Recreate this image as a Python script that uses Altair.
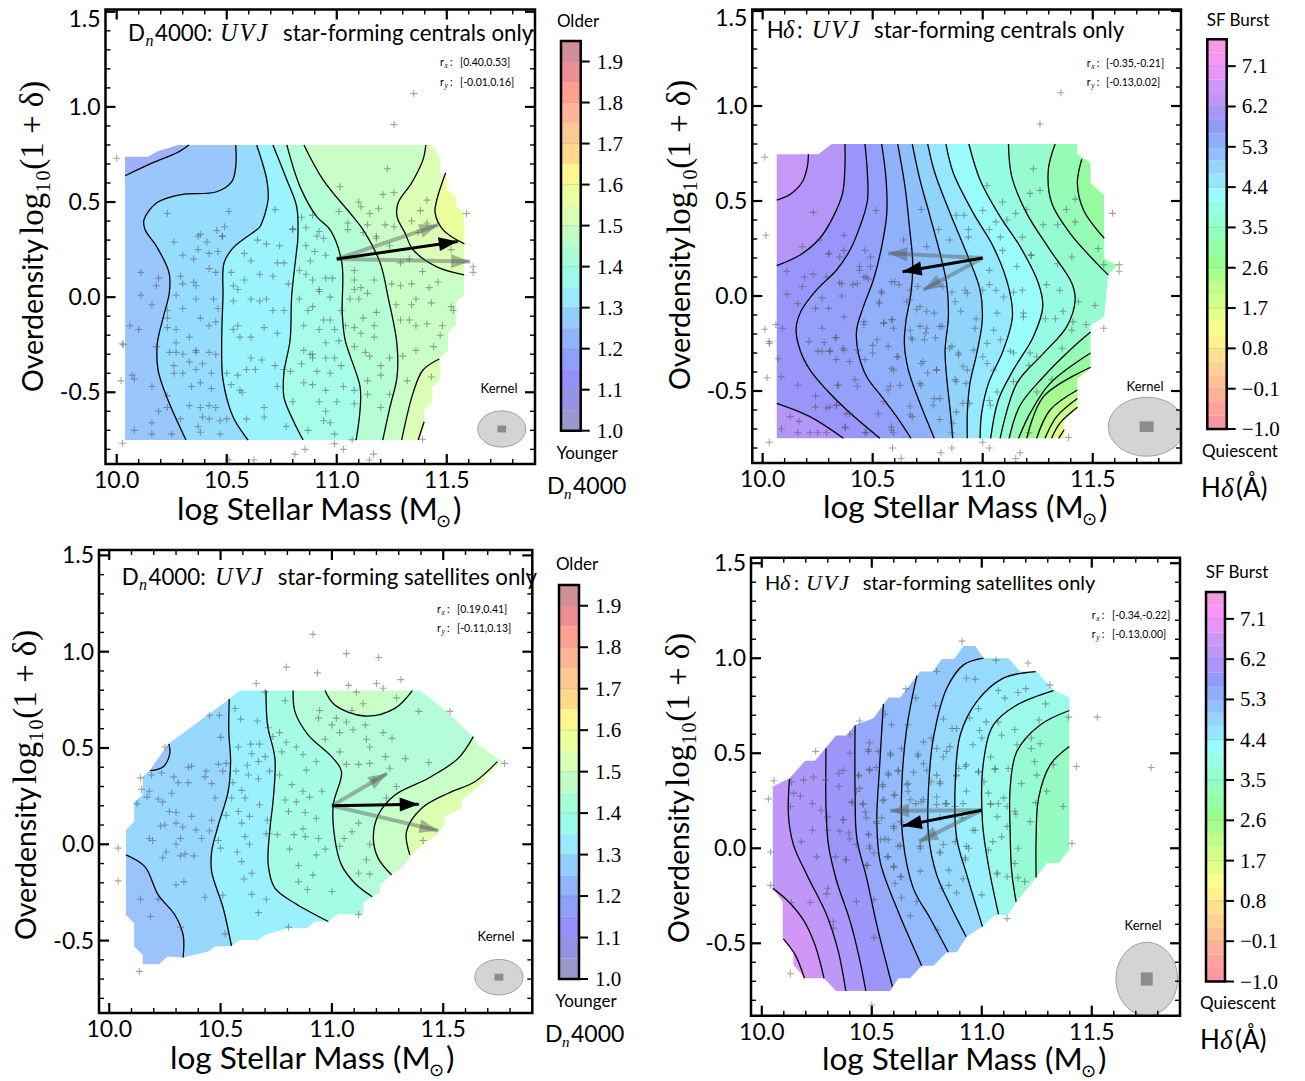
import math
import numpy as np
import pandas as pd
import altair as alt

SANS = "Lato"
SERIF = "Liberation Serif"

# ---------- colour bars ----------
D4_LEVELS = [1.0 + 0.05 * i for i in range(20)]
D4_COLORS = ["#9b98cb", "#9492e3", "#9490fa", "#8fa0fa", "#91b3fb", "#92cdfc", "#99eafe", "#9cfbe8", "#a8fdd8",
             "#c0fdc6", "#d9ffb5", "#eaffa0", "#fdf78f", "#fdd98b", "#fdc992", "#feb596", "#fea090", "#ec8f95", "#d08f98"]
D4_TICKS = [1.0, 1.1, 1.2, 1.3, 1.4, 1.5, 1.6, 1.7, 1.8, 1.9]
HD_LEVELS = [-1.0 + 0.3 * i for i in range(30)]
HD_COLORS = ["#fd96a2", "#fea09c", "#feb098", "#ffc096", "#ffd093", "#ffe090", "#fdf28c", "#f8ff8c", "#e6ff8c", "#d2ff8c",
             "#bfff8c", "#a8ff8c", "#96ff8f", "#94ffa4", "#94ffba", "#94ffd0", "#96ffe6", "#98fdfd", "#96e6fe", "#96d4fe",
             "#94bffe", "#92adfe", "#9298fc", "#a896fa", "#bd96f8", "#d096f6", "#e596f6", "#f896f6", "#f698e2"]
HD_TICKS = [-1.0, -0.1, 0.8, 1.7, 2.6, 3.5, 4.4, 5.3, 6.2, 7.1]

# ---------- panel 1 : Dn4000 centrals ----------
P1_BASE = "#9fb0fb"
P1_MASK = [(10.038, .738), (10.142, .738), (10.183, .765), (10.279, .80), (11.433, .80), (11.47, .738), (11.47, .654),
           (11.501, .633), (11.501, .565), (11.542, .528), (11.542, .475), (11.579, .444), (11.579, .012), (11.542, -.025),
           (11.542, -.146), (11.506, -.188), (11.506, -.277), (11.47, -.319), (11.47, -.435), (11.433, -.472),
           (11.433, -.556), (11.397, -.593), (11.397, -.688), (11.37, -.751), (10.038, -.751)]
P1_CONTOURS = [
    [(10.329, .80), (10.274, .759), (10.165, .707), (10.038, .638)],
    [(10.541, .80), (10.541, .686), (10.523, .607), (10.455, .554), (10.288, .538), (10.182, .496), (10.124, .407),
     (10.129, .354), (10.182, .265), (10.238, .128), (10.239, .023), (10.212, -.104), (10.185, -.24), (10.188, -.383),
     (10.233, -.541), (10.315, -.751)],
    [(10.636, .80), (10.682, .617), (10.688, .512), (10.651, .37), (10.636, .354), (10.529, .259), (10.488, .181),
     (10.483, .002), (10.477, -.24), (10.483, -.435), (10.529, -.63), (10.597, -.751)],
    [(10.71, .80), (10.773, .617), (10.818, .475), (10.823, .302), (10.818, .249), (10.795, .002), (10.788, -.225),
     (10.76, -.398), (10.76, -.525), (10.801, -.646), (10.847, -.751)],
    [(10.773, .80), (10.833, .581), (10.909, .423), (10.97, .354), (11.023, .181), (11.025, -.083), (11.038, -.225),
     (11.106, -.472), (11.106, -.593), (11.088, -.751)],
    [(10.851, .80), (10.938, .617), (11.074, .423), (11.12, .354), (11.197, .181), (11.233, .002), (11.273, -.24),
     (11.274, -.419), (11.242, -.577), (11.209, -.751)],
    [(11.405, .80), (11.392, .723), (11.341, .602), (11.279, .496), (11.274, .423), (11.31, .338), (11.347, .249),
     (11.455, .159), (11.579, .117)],
    [(11.495, .654), (11.455, .512), (11.447, .444), (11.483, .354), (11.58, .28)],
    [(11.466, -.325), (11.392, -.383), (11.347, -.503), (11.295, -.751)],
    [(11.397, -.655), (11.37, -.751)],
]
P1_EXITS = ["TL", "TB", "TB", "TB", "TB", "TB", "TR", "TR", "RB", "RB"]
P1_COLORS = ["#99c6fc", "#96dcfe", "#9bf3fe", "#a6fde8", "#b5fed5", "#c9ffc6", "#dbffb5", "#ecff9e", "#dbffb5", "#ecff9e"]
P1_ARROWS = [(11.0, .2, 11.462, .38, "g"), (11.0, .2, 11.606, .187, "g"), (11.0, .2, 11.55, .293, "k")]
P1_POINTS = [(10.11, .13), (10.11, .01), (10.16, -.04), (10.19, .10), (10.18, .06), (10.06, -.15), (10.10, -.17), (10.03, -.25),
             (10.025, -.245), (10.07, -.41), (10.08, -.43), (10.02, -.44), (10.16, -.47), (10.19, -.60), (10.16, -.66), (10.08, -.70),
             (10.16, -.72), (10.25, -.72), (10.23, -.58), (10.26, .29), (10.30, .22), (10.35, .20), (10.37, .25), (10.41, .29),
             (10.42, .23), (10.46, .24), (10.38, .33), (10.48, .32), (10.42, .15), (10.45, .13), (10.29, .11), (10.30, .07),
             (10.35, .08), (10.36, .06), (10.27, .01), (10.36, -.01), (10.44, -.01), (10.46, -.06), (10.30, -.06), (10.23, -.07),
             (10.23, -.11), (10.38, -.11), (10.42, -.15), (10.45, -.13), (10.23, -.16), (10.27, -.17), (10.33, -.21), (10.27, -.24),
             (10.18, -.26), (10.36, -.28), (10.24, -.29), (10.27, -.29), (10.30, -.30), (10.36, -.29), (10.42, -.29), (10.45, -.30),
             (10.33, -.34), (10.26, -.36), (10.39, -.35), (10.26, -.40), (10.30, -.40), (10.36, -.38), (10.43, -.40), (10.34, -.47),
             (10.38, -.45), (10.43, -.48), (10.23, -.52), (10.33, -.57), (10.38, -.58), (10.42, -.57), (10.45, -.58), (10.39, -.63),
             (10.29, -.64), (10.42, -.64), (10.47, -.65), (10.50, -.64), (10.37, -.68), (10.38, -.71), (10.47, -.72), (10.59, -.64),
             (10.67, -.63), (10.67, -.58), (10.56, -.49), (10.57, -.50), (10.52, -.46), (10.55, -.41), (10.50, -.40), (10.59, -.38),
             (10.63, -.38), (10.61, -.32), (10.66, -.33), (10.72, -.36), (10.73, -.47), (10.76, -.38), (10.80, -.55), (10.77, -.68),
             (10.87, -.70), (10.53, -.17), (10.56, -.21), (10.55, -.15), (10.61, -.21), (10.67, -.16), (10.73, -.19), (10.65, -.02),
             (10.53, -.02), (10.61, -.01), (10.68, -.01), (10.71, -.07), (10.76, -.07), (10.78, .07), (10.71, .11), (10.65, .12),
             (10.58, .09), (10.53, .06), (10.55, .04), (10.52, .13), (10.64, .30), (10.68, .28), (10.74, .27), (10.58, .23),
             (10.61, .19), (10.73, .18), (10.76, .18), (10.86, .27), (10.88, .19), (10.83, .14), (10.86, .12), (10.83, -.01),
             (10.87, -.07), (10.85, -.15), (10.85, -.28), (10.88, -.30), (10.84, -.35), (10.79, -.39), (10.85, -.45), (10.89, -.32),
             (10.91, .32), (10.94, .31), (10.90, .24), (10.95, .22), (10.89, .09), (10.95, .10), (10.98, .10), (10.92, .04), (10.92, .03),
             (10.97, 0), (10.89, -.05), (11.02, -.07), (10.94, -.12), (10.97, -.12), (10.92, -.17), (10.99, -.17), (11.04, -.15),
             (10.95, -.24), (11.01, -.23), (10.89, -.30), (10.95, -.32), (10.99, -.32), (10.91, -.39), (10.97, -.40), (11.02, -.36),
             (10.89, -.46), (10.95, -.49), (11.03, -.47), (11.08, -.49), (10.92, -.55), (11.0, -.55), (11.08, -.56), (10.95, -.60),
             (10.94, -.65), (10.97, -.66), (10.99, -.72), (11.07, -.75), (11.08, .09), (11.11, .05), (11.14, .02), (11.08, .04),
             (11.06, -.01), (11.10, -.01), (11.18, -.08), (11.12, -.11), (11.17, -.15), (11.08, -.16), (11.11, -.19), (11.17, -.21),
             (11.08, -.26), (11.13, -.29), (11.15, -.31), (11.20, -.36), (11.20, -.41), (11.14, -.44), (11.14, -.51), (11.24, -.51),
             (11.20, -.58), (11.25, .07), (11.29, .06), (11.34, .07), (11.42, .05), (11.46, .08), (11.27, -.04), (11.36, -.01),
             (11.34, -.04), (11.43, -.03), (11.52, -.05), (11.53, -.07), (11.29, -.12), (11.33, -.12), (11.36, -.15), (11.41, -.14),
             (11.48, -.15), (11.47, -.20), (11.36, -.28), (11.44, -.26), (11.24, -.32), (11.30, -.31), (11.43, -.42), (11.32, -.44),
             (11.12, .34), (11.18, .31), (11.24, .27), (11.08, .14), (11.17, .09), (11.33, .20), (11.29, .18), (11.39, .135), (11.52, .25),
             (11.23, .675), (11.015, .58), (11.21, .54), (11.26, .55), (11.10, .50), (11.11, .475), (11.19, .465), (11.15, .44), (11.01, .45),
             (11.41, .51), (11.38, .455), (11.34, .40), (11.59, .44), (10.84, .42), (10.89, .43), (10.86, .365), (10.80, .355), (10.92, .345),
             (11.05, .39), (11.05, .355), (11.14, .38), (11.22, .38), (11.18, .32), (11.26, .37), (11.37, .34), (11.41, .39),
             (10.23, .44), (10.51, .45), (10.37, .32), (10.455, .35), (10.49, .37), (10.48, .32), (10.72, .46), (10.80, .36),
             (10.0, .73), (11.35, 1.07), (11.26, .907), (11.62, .16), (11.62, .13), (10.026, -.768), (10.856, -.80), (10.81, -.825),
             (10.624, -.856), (10.51, -.856), (10.99, -.77), (11.03, -.80), (11.167, -.825), (11.148, -.856), (11.39, -.747)]

# ---------- panel 2 : Hdelta centrals ----------
P2_BASE = "#c898f8"
P2_MASK = [(10.064, .746), (10.253, .746), (10.314, .80), (11.43, .80), (11.43, .746), (11.49, .70), (11.49, .593), (11.552, .53),
           (11.552, .198), (11.61, .16), (11.57, .11), (11.552, -.109), (11.49, -.153), (11.49, -.382), (11.43, -.435),
           (11.43, -.593), (11.37, -.654), (11.37, -.749), (10.064, -.749)]
P2_CONTOURS = [
    [(10.208, .746), (10.203, .681), (10.18, .60), (10.125, .535), (10.064, .505)],
    [(10.374, .80), (10.374, .681), (10.363, .54), (10.321, .418), (10.26, .304), (10.17, .216), (10.064, .16)],
    [(10.465, .80), (10.476, .646), (10.476, .50), (10.442, .365), (10.397, .242), (10.336, .137), (10.245, .032), (10.177, -.074),
     (10.152, -.17), (10.17, -.284), (10.215, -.389), (10.291, -.495), (10.382, -.60), (10.533, -.749)],
    [(10.541, .80), (10.561, .611), (10.564, .435), (10.541, .26), (10.503, .084), (10.458, -.056), (10.427, -.179), (10.435, -.302),
     (10.473, -.425), (10.541, -.53), (10.609, -.635), (10.674, -.749)],
    [(10.614, .80), (10.647, .575), (10.667, .365), (10.682, .172), (10.674, .014), (10.652, -.126), (10.644, -.249), (10.662, -.389),
     (10.715, -.565), (10.78, -.749)],
    [(10.68, .80), (10.715, .611), (10.761, .418), (10.806, .225), (10.836, .067), (10.844, -.109), (10.829, -.284), (10.836, -.425),
     (10.852, -.60), (10.864, -.749)],
    [(10.75, .80), (10.783, .646), (10.852, .435), (10.927, .225), (10.988, .032), (10.998, -.126), (10.973, -.302), (10.942, -.46),
     (10.93, -.618), (10.93, -.749)],
    [(10.833, .80), (10.867, .646), (10.958, .435), (11.048, .26), (11.117, .049), (11.135, -.109), (11.094, -.284), (11.026, -.46),
     (10.995, -.618), (10.988, -.749)],
    [(10.937, .80), (10.988, .611), (11.079, .418), (11.17, .26), (11.253, .067), (11.273, -.056), (11.23, -.214), (11.139, -.389),
     (11.071, -.547), (11.036, -.749)],
    [(11.117, .80), (11.132, .628), (11.2, .435), (11.306, .242), (11.405, .067), (11.42, -.021), (11.382, -.161), (11.276, -.302),
     (11.155, -.46), (11.079, -.749)],
    [(11.329, .80), (11.298, .663), (11.314, .488), (11.397, .33), (11.518, .172), (11.571, .11)],
    [(11.45, .72), (11.43, .593), (11.458, .453), (11.552, .304)],
    [(11.49, -.19), (11.397, -.284), (11.276, -.425), (11.17, -.575), (11.12, -.749)],
    [(11.49, -.30), (11.306, -.46), (11.215, -.618), (11.163, -.749)],
    [(11.49, -.375), (11.276, -.53), (11.2, -.749)],
    [(11.43, -.495), (11.306, -.60), (11.245, -.749)],
    [(11.43, -.54), (11.336, -.635), (11.283, -.749)],
    [(11.43, -.585), (11.35, -.67), (11.313, -.749)],
    [(11.37, -.704), (11.345, -.749)],
    [(10.367, -.749), (10.215, -.635), (10.064, -.565)],
]
P2_EXITS = ["TL", "TL", "TB", "TB", "TB", "TB", "TB", "TB", "TB", "TB", "TR", "TR", "RB", "RB", "RB", "RB", "RB", "RB", "RB", "BL"]
P2_COLORS = ["#b396f8", "#9a95fb", "#95a0fb", "#90b0fb", "#90c0fc", "#90d4fc", "#96e8fe", "#9afbfd", "#96fbe4", "#96fbcf", "#96fbb5",
             "#95fb9e", "#96fbb5", "#95fb9e", "#a5fb8f", "#bbfc8c", "#cdfd8a", "#defd8a", "#effd8a", "#b396f8"]
P2_ARROWS = [(11.0, .2, 10.571, .225, "g"), (11.0, .2, 10.73, .032, "g"), (11.0, .2, 10.636, .128, "k")]
P2_POINTS = [(10.01, .73), (10.015, .32), (10.01, -.175), (10.06, -.15), (10.03, -.25), (10.03, -.24), (10.02, -.43), (10.03, -.77),
             (10.59, -.80), (10.63, -.855), (10.81, -.825), (10.86, -.80), (11.0, -.77), (11.03, -.80), (11.17, -.825), (11.15, -.855),
             (11.39, -.745), (11.55, -.17), (11.59, .435), (11.62, .165), (11.62, .13), (11.355, 1.07), (11.26, .905), (11.23, .67),
             (11.02, .58), (10.23, .44), (10.515, .45), (10.72, .455), (10.88, .425), (10.915, .425), (10.80, .35), (10.935, .35), (11.0, .45),
             (11.06, .39), (11.11, .40), (11.09, .495), (11.15, .435), (11.20, .455), (11.215, .54), (11.26, .555), (11.42, .51), (11.38, .455),
             (11.42, .39), (11.34, .375), (11.275, .375), (11.525, .25), (11.55, .165), (11.405, .205), (11.34, .17), (11.22, .215), (11.18, .31),
             (11.08, .31), (11.03, .35), (10.935, .31), (10.85, .295), (10.745, .26), (10.64, .295), (10.465, .24), (10.37, .32), (10.26, .295),
             (10.18, .26), (10.30, .22), (10.35, .205), (10.44, .155), (10.49, .155), (10.11, .13), (10.19, .10), (10.23, .115), (10.29, .10),
             (10.36, .065), (10.43, .065), (10.47, .10), (10.18, .05), (10.11, .01), (10.16, -.04), (10.24, -.065), (10.30, -.065), (10.37, -.11),
             (10.27, -.17), (10.09, -.17), (10.21, -.24), (10.28, -.245), (10.335, -.22), (10.25, -.29), (10.305, -.29), (10.37, -.285),
             (10.43, -.285), (10.50, -.30), (10.07, -.33), (10.085, -.425), (10.16, -.47), (10.24, -.525), (10.24, -.585), (10.305, -.585),
             (10.34, -.47), (10.43, -.475), (10.335, -.575), (10.395, -.62), (10.125, -.635), (10.165, -.66), (10.085, -.70), (10.16, -.72),
             (10.215, -.72), (10.25, -.72), (10.29, -.72), (10.375, -.695), (10.47, -.72), (10.595, -.72), (10.585, -.69), (10.68, -.635),
             (10.67, -.58), (10.55, -.555), (10.58, -.475), (10.595, -.39), (10.61, -.32), (10.52, -.23), (10.55, -.145), (10.46, -.135),
             (10.54, .015), (10.53, -.04), (10.60, .075), (10.67, .03), (10.655, -.03), (10.715, -.055), (10.59, -.125), (10.67, -.18),
             (10.74, -.195), (10.68, -.23), (10.815, -.16), (10.875, -.03), (10.93, .015), (10.82, .05), (11.0, .03), (11.03, .06), (11.095, -.005),
             (11.065, -.09), (11.185, -.09), (11.14, .02), (11.29, .06), (11.35, .03), (11.435, -.03), (11.365, -.08), (11.285, -.12), (11.33, -.12),
             (11.41, -.135), (11.51, -.05), (11.47, -.15), (11.405, -.18), (11.36, -.275), (11.14, -.30), (11.21, -.365), (11.245, -.32),
             (11.315, -.44), (11.245, -.505), (11.14, -.45), (11.065, -.505), (11.035, -.575), (10.91, -.565), (10.875, -.44), (10.85, -.275),
             (10.89, -.30), (10.96, -.285), (11.02, -.25), (11.02, -.355), (10.93, -.39), (10.79, -.39), (10.73, -.345), (10.805, -.54),
             (10.865, -.67), (10.72, -.47), (11.21, -.72), (10.86, -.72),
             (10.30, .225), (10.37, .24), (10.49, .205), (10.44, .135), (10.46, .10), (10.35, .07), (10.41, .06), (10.48, .09), (10.27, -.01), (10.36, 0),
             (10.54, .025), (10.53, -.03), (10.585, .075), (10.62, .06), (10.705, .05), (10.67, -.02), (10.70, -.07), (10.745, -.08), (10.78, -.09),
             (10.86, .02), (10.92, .03), (10.90, -.08), (10.97, -.12), (10.965, -.17), (10.46, -.15), (10.55, -.14), (10.585, -.125), (10.595, -.17),
             (10.715, -.16), (10.745, -.17), (10.805, -.16), (10.675, -.22), (10.735, -.23), (10.785, -.22), (10.33, -.22), (10.365, -.275), (10.305, -.29),
             (10.27, -.29), (10.50, -.26), (10.57, -.265), (10.615, -.32), (10.335, -.335), (10.395, -.345), (10.465, -.335), (10.585, -.38), (10.72, -.355),
             (10.79, -.39), (10.75, -.405), (10.86, -.265), (10.89, -.31), (10.91, -.37), (10.88, -.45), (11.0, -.32), (11.05, -.39), (10.625, -.47),
             (10.715, -.46), (10.57, -.495), (10.42, -.44), (10.345, -.47), (10.78, -.54), (10.775, -.575), (10.88, -.61), (10.67, -.625), (10.805, -.65),
             (10.335, -.575), (10.29, -.59), (10.38, -.62), (10.525, -.62), (10.375, -.69), (10.585, -.705), (10.465, -.72), (11.05, -.18), (11.08, -.23),
             (11.185, -.11), (11.18, .03), (11.09, .24), (11.155, .155), (11.22, .215), (11.03, .135), (11.06, .03), (11.215, -.30), (11.125, -.29),
             (11.03, -.55), (10.94, -.565), (10.925, -.46)]

# ---------- panel 3 : Dn4000 satellites ----------
P3_BASE = "#98d8fe"
P3_MASK = [(10.075, .074), (10.112, .118), (10.112, .221), (10.15, .256), (10.15, .351), (10.183, .386), (10.265, .521), (10.534, .749),
           (10.587, .798), (11.395, .798), (11.507, .697), (11.635, .559), (11.657, .516), (11.765, .429), (11.687, .351),
           (11.687, .325), (11.582, .23), (11.582, .187), (11.507, .144), (11.507, .1), (11.463, .04), (11.41, -.003), (11.358, -.055),
           (11.32, -.116), (11.268, -.159), (11.216, -.211), (11.216, -.254), (11.178, -.272), (11.141, -.306), (11.141, -.363), (11.028, -.363),
           (10.984, -.401), (10.924, -.401), (10.886, -.436), (10.804, -.436), (10.699, -.471), (10.669, -.497), (10.587, -.497),
           (10.549, -.528), (10.475, -.531), (10.445, -.557), (10.332, -.588), (10.262, -.583), (10.223, -.623), (10.15, -.623),
           (10.15, -.574), (10.112, -.531), (10.112, -.41), (10.075, -.367)]
P3_CONTOURS = [
    [(10.183, .382), (10.243, .403), (10.272, .472), (10.268, .521)],
    [(10.332, -.588), (10.332, -.471), (10.295, -.367), (10.22, -.263), (10.16, -.116), (10.075, -.055)],
    [(10.539, .754), (10.537, .585), (10.545, .429), (10.534, .273), (10.49, .10), (10.46, -.038), (10.46, -.142), (10.512, -.332), (10.549, -.528)],
    [(10.704, .798), (10.711, .619), (10.744, .446), (10.737, .239), (10.722, .083), (10.714, -.107), (10.744, -.228), (10.834, -.306), (10.984, -.401)],
    [(10.826, .798), (10.834, .689), (10.894, .567), (10.999, .455), (11.043, .377), (11.006, .204), (11.013, .031), (11.043, -.107), (11.103, -.202), (11.181, -.272)],
    [(10.969, .798), (11.013, .723), (11.148, .666), (11.283, .706), (11.361, .798)],
    [(11.635, .559), (11.567, .446), (11.433, .343), (11.283, .256), (11.208, .152), (11.186, .031), (11.208, -.073), (11.268, -.159)],
    [(11.743, .429), (11.642, .325), (11.522, .265), (11.403, .187), (11.335, .066), (11.35, -.055)],
]
P3_EXITS = ["LT", "BL", "TB", "TB", "TB", "TT", "RB", "RB"]
P3_COLORS = ["#9cc4fc", "#9cc4fc", "#9bf0fe", "#a6fde6", "#b5fdd8", "#c9ffc6", "#c9ffc6", "#dcffb0"]
P3_ARROWS = [(11.0, .2, 11.248, .368, "g"), (11.0, .2, 11.478, .071, "g"), (11.0, .2, 11.39, .208, "k")]
P3_POINTS = [(10.04, -.02), (10.04, -.19), (10.135, -.66), (10.25, .505), (10.14, .345), (10.145, .285), (10.18, .275), (10.125, .21),
             (10.19, .36), (10.235, .37), (10.29, .35), (10.31, .32), (10.355, .32), (10.355, .40), (10.37, .405), (10.435, .38), (10.43, .35),
             (10.46, .315), (10.28, .265), (10.17, .245), (10.22, .235), (10.24, .22), (10.30, .165), (10.27, .17), (10.37, .145), (10.30, .11),
             (10.23, .095), (10.25, .10), (10.33, .09), (10.39, .075), (10.45, .07), (10.18, .03), (10.195, .02), (10.32, .03), (10.415, .03),
             (10.30, 0), (10.255, -.04), (10.24, -.07), (10.32, -.06), (10.34, -.05), (10.38, -.06), (10.49, .02), (10.50, -.02), (10.46, .125),
             (10.475, .24), (10.51, .38), (10.49, .415), (10.525, .42), (10.50, .555), (10.45, .67), (10.495, .67), (10.565, .705), (10.59, .65),
             (10.665, .64), (10.58, .505), (10.635, .52), (10.675, .52), (10.64, .47), (10.67, .43), (10.62, .41), (10.57, .38), (10.625, .36),
             (10.67, .34), (10.70, .455), (10.72, .38), (10.555, .32), (10.595, .28), (10.55, .24), (10.61, .24), (10.675, .205), (10.525, .15),
             (10.58, .17), (10.63, .145), (10.595, .11), (10.71, .125), (10.61, .04), (10.63, 0), (10.575, -.04), (10.595, -.09), (10.705, .055),
             (10.72, .055), (10.755, .05), (10.64, -.15), (10.605, -.18), (10.51, -.265), (10.64, -.26), (10.705, -.285), (10.67, -.355),
             (10.52, -.465), (10.805, -.43), (11.12, -.365), (11.0, -.245), (10.89, -.235), (10.85, -.195), (10.915, -.16), (10.85, -.11),
             (10.93, -.055), (10.81, -.025), (10.88, .04), (10.97, -.025), (10.94, .03), (10.83, .05), (10.87, .08), (10.93, .135), (10.88, .165),
             (10.805, .17), (10.79, .23), (10.84, .22), (10.90, .245), (10.955, .275), (10.87, .275), (10.82, .31), (10.765, .36), (10.885, .385),
             (10.93, .43), (10.87, .465), (10.775, .48), (10.84, .505), (10.795, .53), (10.765, .58), (10.735, .56), (10.715, .605), (10.79, .745),
             (10.70, .79), (10.66, .835), (10.795, .92), (10.915, 1.09), (10.935, .89), (11.065, .99), (11.21, .97), (11.075, .825), (11.11, .79),
             (11.20, .835), (11.23, .81), (11.31, .855), (11.14, .73), (11.29, .76), (11.53, .69), (11.39, .69), (11.09, .695), (10.945, .695),
             (11.02, .655), (10.94, .655), (11.065, .635), (11.15, .62), (11.0, .62), (11.035, .58), (11.095, .595), (11.23, .58), (10.97, .545),
             (11.155, .545), (11.27, .55), (11.17, .505), (11.035, .48), (11.24, .455), (11.33, .445), (11.435, .425), (11.065, .415), (11.12, .415),
             (11.17, .42), (11.26, .395), (11.19, .335), (11.29, .30), (11.245, .24), (11.775, .42), (11.12, .11), (11.09, .065), (11.055, .03),
             (11.17, 0), (11.035, -.01), (11.155, -.08), (11.12, -.15), (11.17, -.155), (11.41, .02), (10.22, -.285), (10.14, -.285), (10.185, -.375),
             (10.30, -.21), (10.335, -.195), (10.43, -.275), (10.32, -.43)]

# ---------- panel 4 : Hdelta satellites ----------
P4_BASE = "#c097f8"
P4_MASK = [(10.05, .325), (10.126, .368), (10.197, .46), (10.242, .46), (10.338, .593), (10.386, .593), (10.424, .649), (10.508, .684),
           (10.576, .793), (10.629, .793), (10.72, .93), (10.777, .93), (10.818, .996), (10.874, .996), (10.917, 1.065), (10.97, 1.065),
           (11.008, 1.0), (11.121, 1.0), (11.174, .93), (11.25, .93), (11.326, .833), (11.398, .793), (11.398, -.009), (11.348, -.079),
           (11.295, -.079), (11.25, -.149), (11.159, -.281), (11.121, -.351), (11.061, -.351), (11.003, -.412), (10.932, -.465), (10.886, -.547),
           (10.841, -.547), (10.78, -.618), (10.727, -.618), (10.674, -.684), (10.621, -.684), (10.583, -.751), (10.338, -.751), (10.283, -.684),
           (10.197, -.684), (10.144, -.614), (10.144, -.544), (10.095, -.474), (10.095, -.281), (10.05, -.211)]
P4_CONTOURS = [
    [(10.283, -.684), (10.242, -.509), (10.189, -.377), (10.114, -.272), (10.05, -.211)],
    [(10.194, -.684), (10.152, -.561), (10.098, -.477)],
    [(10.126, .365), (10.121, .175), (10.144, .018), (10.205, -.14), (10.295, -.351), (10.348, -.544), (10.382, -.751)],
    [(10.292, .526), (10.292, .211), (10.303, .018), (10.341, -.175), (10.402, -.386), (10.447, -.596), (10.473, -.751)],
    [(10.424, .646), (10.424, .316), (10.432, .053), (10.477, -.158), (10.523, -.404), (10.594, -.728)],
    [(10.553, .76), (10.535, .421), (10.523, .14), (10.538, -.07), (10.614, -.316), (10.727, -.618)],
    [(10.705, .909), (10.659, .632), (10.636, .316), (10.641, .053), (10.689, -.211), (10.765, -.368), (10.848, -.547)],
    [(11.008, 1.0), (10.917, .965), (10.841, .842), (10.78, .579), (10.758, .316), (10.758, .07), (10.795, -.14), (10.856, -.298), (10.929, -.465)],
    [(11.245, .93), (11.098, .895), (10.977, .772), (10.902, .596), (10.879, .333), (10.886, .053), (10.932, -.14), (11.003, -.412)],
    [(11.326, .83), (11.159, .754), (11.053, .649), (11.008, .456), (11.003, .14), (11.03, -.088), (11.076, -.347)],
    [(11.398, .725), (11.265, .649), (11.159, .509), (11.129, .316), (11.129, .088), (11.136, -.123), (11.156, -.281)],
    [(11.398, .535), (11.311, .439), (11.258, .263), (11.247, .053), (11.247, -.154)],
]
P4_EXITS = ["BL", "BL", "TB", "TB", "TB", "TB", "TB", "TB", "TB", "TB", "RB", "RB"]
P4_COLORS = ["#d296f6", "#e296f6", "#ac97fa", "#9c96fb", "#96a8fb", "#92bafc", "#92c8fc", "#96dafe", "#9af0fd", "#9bfbe8", "#96fbd4", "#96fbc0"]
P4_ARROWS = [(11.0, .2, 10.583, .198, "g"), (11.0, .2, 10.715, .035, "g"), (11.0, .2, 10.641, .118, "k")]
P4_POINTS = [(10.91, 1.09), (11.065, .99), (11.21, .975), (11.31, .86), (10.795, .93), (10.655, .84), (10.70, .79), (10.445, .67), (10.245, .51),
             (10.055, .355), (10.03, .26), (10.04, -.02), (10.04, -.195), (10.13, -.66), (10.50, -.825), (11.115, -.37), (11.41, .025), (11.43, .43),
             (11.525, .69), (11.77, .425), (10.93, .895), (10.97, .89), (11.075, .83), (11.165, .82), (11.20, .84), (11.105, .79), (11.29, .76),
             (11.395, .69), (10.79, .75), (10.825, .68), (10.945, .685), (10.985, .735), (11.02, .665), (11.075, .665), (11.26, .675), (10.59, .65),
             (10.665, .65), (10.40, .60), (10.56, .705), (10.735, .56), (10.77, .58), (10.865, .63), (10.885, .63), (10.99, .62), (11.0, .58),
             (11.15, .625), (11.09, .595), (11.225, .58), (11.16, .545), (11.265, .55), (11.225, .525), (10.49, .555), (10.485, .51), (10.53, .51),
             (10.40, .50), (10.585, .50), (10.635, .525), (10.71, .495), (10.795, .525), (10.855, .535), (10.825, .48), (10.735, .445), (11.04, .48),
             (11.325, .44), (11.06, .415), (11.12, .42), (11.24, .455), (10.93, .44), (10.895, .42), (10.49, .415), (10.52, .425), (10.62, .41),
             (10.69, .40), (10.795, .385), (10.885, .385), (10.985, .40), (10.35, .395), (10.44, .385), (10.575, .385), (10.235, .375), (10.19, .36),
             (10.135, .35), (10.29, .36), (10.35, .325), (10.43, .30), (10.55, .335), (10.66, .335), (10.77, .35), (10.81, .34), (11.01, .35),
             (11.18, .34), (11.25, .385), (11.295, .30), (11.37, .22), (11.245, .24), (11.155, .18), (11.22, .14), (11.165, 0), (11.115, .115),
             (11.09, .06), (11.05, .035), (11.03, -.01), (11.075, .235), (11.115, .22), (11.04, .235), (10.915, .235), (10.84, .235), (10.735, .255),
             (10.675, .255), (10.60, .28), (10.55, .25), (10.46, .235), (10.41, .24), (10.145, .29), (10.175, .275), (10.23, .235), (10.27, .20),
             (10.13, .22), (10.30, .165), (10.37, .15), (10.475, .16), (10.52, .14), (10.60, .115), (10.23, .095), (10.30, .095), (10.355, .09),
             (10.18, .035), (10.40, .05), (10.485, .07), (10.43, .02), (10.49, 0), (10.56, .05), (10.62, .01), (10.72, .01), (10.81, -.025),
             (10.825, .02), (10.93, .01), (10.96, .095), (10.925, -.05), (10.85, -.115), (10.25, -.045), (10.335, -.045), (10.385, -.06), (10.57, -.045),
             (10.48, -.09), (10.60, -.10), (10.63, -.15), (10.72, -.12), (10.605, -.185), (10.915, -.16), (11.07, -.135), (11.115, -.15), (11.165, -.155),
             (11.195, -.175), (10.85, -.195), (10.82, -.21), (10.885, -.235), (11.0, -.245), (10.30, -.21), (10.295, -.24), (10.43, -.28), (10.51, -.27),
             (10.635, -.26), (10.705, -.28), (10.135, -.285), (10.22, -.285), (10.675, -.355), (10.325, -.385), (10.80, -.43), (10.51, -.47), (10.325, -.42),
             (10.485, .52), (10.585, .49), (10.71, .485), (10.84, .51), (10.96, .545), (10.37, .41), (10.44, .38), (10.49, .41), (10.575, .395), (10.62, .405),
             (10.665, .34), (10.75, .41), (10.81, .35), (10.885, .38), (10.925, .43), (10.985, .405), (11.06, .42), (10.445, .315), (10.55, .325), (10.605, .28),
             (10.665, .30), (10.725, .245), (10.795, .27), (10.835, .235), (10.93, .30), (11.03, .29), (11.10, .265), (10.41, .245), (10.46, .23), (10.555, .255),
             (10.70, .235), (10.795, .23), (10.88, .22), (11.04, .23), (11.07, .165), (11.15, .195), (10.37, .15), (10.47, .19), (10.545, .16), (10.63, .14),
             (10.81, .16), (10.91, .16), (10.97, .095), (10.395, .08), (10.485, .075), (10.525, .13), (10.60, .105), (10.54, .045), (10.575, .045), (10.63, .015),
             (10.72, 0), (10.81, -.02), (10.88, .035), (10.94, 0), (10.49, .012), (10.51, -.025), (10.575, -.045), (10.925, -.06), (10.38, -.06), (10.475, -.09),
             (10.60, -.095), (11.07, -.13), (11.15, -.08), (10.635, -.15)]

D = pd.DataFrame({"a": [0]})
OFF = 8.0


def ring(contour, exits, dom):
    x0, x1, y0, y1 = dom
    w, h = x1 - x0, y1 - y0

    def out(p, side):
        return {"T": (p[0], y1), "B": (p[0], y0), "L": (x0, p[1]), "R": (x1, p[1])}[side]

    def t(p, side):
        return {"L": (y1 - p[1]) / h, "B": 1 + (p[0] - x0) / w, "R": 2 + (p[1] - y0) / h, "T": 3 + (x1 - p[0]) / w}[side]

    ps, pe = out(contour[0], exits[0]), out(contour[-1], exits[1])
    ts, te = t(contour[0], exits[0]), t(contour[-1], exits[1])
    if ts < te:
        ts += 4
    corners = [(1, (x0, y0)), (2, (x1, y0)), (3, (x1, y1)), (4, (x0, y1)), (5, (x0, y0)), (6, (x1, y0)), (7, (x1, y1))]
    mid = [c for k, c in corners if te < k < ts]
    return list(contour) + [pe] + mid + [ps]


def frame_df(pts):
    return pd.DataFrame({"x": [p[0] for p in pts], "y": [p[1] for p in pts], "i": list(range(len(pts)))})


def text_piece(p):
    txt, px, py, size = p[:4]
    font = p[4] if len(p) > 4 else SANS
    style = p[5] if len(p) > 5 else "normal"
    align = p[6] if len(p) > 6 else "left"
    angle = p[7] if len(p) > 7 else 0
    return alt.Chart(D).mark_text(text=txt, font=font, fontSize=size, fontStyle=style, align=align, baseline="alphabetic",
                                  angle=angle, color="black").encode(x=alt.value(px - OFF), y=alt.value(py - OFF))


def panel(spec):
    L, R, T, B, dom = spec["L"] - OFF, spec["R"] - OFF, spec["T"] - OFF, spec["B"] - OFF, spec["dom"]
    x0, x1, y0, y1 = dom
    sx = alt.Scale(domain=[x0, x1], range=[L, R], nice=False, zero=False)
    sy = alt.Scale(domain=[y0, y1], range=[B, T], nice=False, zero=False)
    X = alt.X("x:Q", scale=sx, axis=None)
    Y = alt.Y("y:Q", scale=sy, axis=None)
    xs, ys = (R - L) / (x1 - x0), (B - T) / (y1 - y0)
    layers = []

    def poly(pts, color):
        return alt.Chart(frame_df(pts)).mark_line(fill=color, strokeWidth=0, interpolate="linear").encode(x=X, y=Y, order="i:Q")

    layers.append(poly([(x0, y0), (x1, y0), (x1, y1), (x0, y1)], spec["base"]))
    for c, e, col in zip(spec["contours"], spec["exits"], spec["colors"]):
        layers.append(poly(ring(c, e, dom), col))
    outer = [(x0, y1), (x1, y1), (x1, y0), (x0, y0), (x0, y1)]
    inner = list(reversed(spec["mask"]))
    layers.append(poly(outer + inner + [inner[0]], "white"))
    for c in spec["contours"]:
        layers.append(alt.Chart(frame_df(c)).mark_line(color="black", strokeWidth=1.3, interpolate="catmull-rom").encode(x=X, y=Y, order="i:Q"))
    pts = pd.DataFrame({"x": [p[0] for p in spec["points"]], "y": [p[1] for p in spec["points"]]})
    layers.append(alt.Chart(pts).mark_point(shape="M-1,0L1,0M0,-1L0,1", filled=False, color="#4d4d4d", opacity=0.5, strokeWidth=1.1, size=49).encode(x=X, y=Y))
    for ax0, ay0, ax1, ay1, kind in spec["arrows"]:
        col, op, sw = ("black", 1.0, 3.0) if kind == "k" else ("#5a5a5a", 0.45, 4.0)
        line = pd.DataFrame({"x": [ax0, ax1], "y": [ay0, ay1], "i": [0, 1]})
        layers.append(alt.Chart(line).mark_line(color=col, opacity=op, strokeWidth=sw).encode(x=X, y=Y, order="i:Q"))
        ang = math.degrees(math.atan2((ax1 - ax0) * xs, (ay1 - ay0) * ys)) % 360
        head = pd.DataFrame({"x": [ax1], "y": [ay1], "a": [ang]})
        layers.append(alt.Chart(head).mark_point(shape="M0,0L0.7,1.9L-0.7,1.9Z", filled=True, color=col, opacity=op, size=400).encode(
            x=X, y=Y, angle=alt.Angle("a:Q", scale=None)))
    kx, ky, rx, ry, hw, hh = spec["kernel"]
    th = np.linspace(0, 2 * np.pi, 60)
    el = list(zip(np.minimum(kx + rx * np.cos(th), x1).tolist(), (ky + ry * np.sin(th)).tolist()))
    layers.append(alt.Chart(frame_df(el)).mark_line(fill="#d4d4d4", stroke="#a0a0a0", strokeWidth=1).encode(x=X, y=Y, order="i:Q"))
    sq = pd.DataFrame({"x": [kx - hw], "x2": [kx + hw], "y": [ky - hh], "y2": [ky + hh]})
    layers.append(alt.Chart(sq).mark_rect(color="#8c8c8c").encode(x=X, x2="x2:Q", y=Y, y2="y2:Q"))
    majx = [10.0, 10.5, 11.0, 11.5]
    minx = [round(9.9 + 0.1 * i, 1) for i in range(1, 21)]
    minx = [v for v in minx if x0 < v < x1 and v not in majx]
    majy = [-0.5, 0.0, 0.5, 1.0, 1.5]
    miny = [round(-0.8 + 0.1 * i, 1) for i in range(0, 24)]
    miny = [v for v in miny if y0 < v < y1 and v not in majy]
    for vals, ln, sw in ((majx, 10, 2.2), (minx, 5, 1.4)):
        tdf = pd.DataFrame({"x": vals})
        layers.append(alt.Chart(tdf).mark_rule(color="black", strokeWidth=sw).encode(x=X, y=alt.value(B), y2=alt.value(B - ln)))
        layers.append(alt.Chart(tdf).mark_rule(color="black", strokeWidth=sw).encode(x=X, y=alt.value(T), y2=alt.value(T + ln)))
    for vals, ln, sw in ((majy, 10, 2.2), (miny, 5, 1.4)):
        tdf = pd.DataFrame({"y": vals})
        layers.append(alt.Chart(tdf).mark_rule(color="black", strokeWidth=sw).encode(y=Y, x=alt.value(L), x2=alt.value(L + ln)))
        layers.append(alt.Chart(tdf).mark_rule(color="black", strokeWidth=sw).encode(y=Y, x=alt.value(R), x2=alt.value(R - ln)))
    layers.append(alt.Chart(D).mark_rect(fillOpacity=0, stroke="black", strokeWidth=2.5).encode(
        x=alt.value(L), x2=alt.value(R), y=alt.value(T), y2=alt.value(B)))
    xl = pd.DataFrame({"x": majx, "t": ["10.0", "10.5", "11.0", "11.5"]})
    layers.append(alt.Chart(xl).mark_text(font=SANS, fontSize=23, align="center", baseline="alphabetic", color="black").encode(
        x=X, y=alt.value(B + 24), text="t:N"))
    yl = pd.DataFrame({"y": [-0.5, 0.0, 0.5, 1.0], "t": ["-0.5", "0.0", "0.5", "1.0"]})
    layers.append(alt.Chart(yl).mark_text(font=SANS, fontSize=23, align="right", baseline="alphabetic", dx=-5, dy=8, color="black").encode(
        x=alt.value(L), y=Y, text="t:N"))
    yt = pd.DataFrame({"y": [1.5], "t": ["1.5"]})
    layers.append(alt.Chart(yt).mark_text(font=SANS, fontSize=23, align="right", baseline="alphabetic", dx=-5, dy=spec["top_dy"], color="black").encode(
        x=alt.value(L), y=Y, text="t:N"))
    for piece in spec["texts"]:
        layers.append(text_piece(piece))
    return alt.layer(*layers)


def rlab(px, vx, yb1, yb2, s1, s2):
    return [("r", px, yb1, 10.5), ("x", px + 4.5, yb1 + 2, 7.5, SERIF, "italic"), (":", px + 10, yb1, 10.5), (s1, vx, yb1, 10.5),
            ("r", px, yb2, 10.5), ("y", px + 4.5, yb2 + 2, 7.5, SERIF, "italic"), (":", px + 10, yb2, 10.5), (s2, vx, yb2, 10.5)]


def title_d(x1, x2, x3, xu, xs, yb, text, size=22.3):
    return [("D", x1, yb, size), ("n", x2, yb + 5, 16, SERIF, "italic"), ("4000:", x3, yb, size),
            ("U\u200aV\u200aJ", xu, yb, size + 2, SERIF, "italic"), (text, xs, yb, size)]


def title_h(x1, x2, x3, xu, xs, yb, text, size=22.3):
    return [("H", x1, yb, size), ("\u03b4", x2, yb, size + 2, SERIF, "italic"), (":", x3, yb, size),
            ("U\u200aV\u200aJ", xu, yb, size + 2, SERIF, "italic"), (text, xs, yb, size)]


def axis_titles(x_start, x_base, y_base, y_start, y_log):
    return [("log Stellar Mass (M", x_start, x_base, 31.5), ("\u2299", x_start + 259, x_base + 7, 18, "DejaVu Sans"), (")", x_start + 276, x_base, 31.5),
            ("Overdensity", y_base, y_start, 28.5, SANS, "normal", "left", 270),
            ("log\u2081\u2080(1 + \u03b4)", y_base, y_log, 33, SERIF, "normal", "left", 270)]


def colorbar(levels, colors, ticks, L, R, T, B, lab_x, labels):
    L, R, T, B = L - OFF, R - OFF, T - OFF, B - OFF
    s = alt.Scale(domain=[levels[0], levels[-1]], range=[B, T], nice=False, zero=False)
    Yb = alt.Y("lo:Q", scale=s, axis=None)
    cells = pd.DataFrame({"lo": levels[:-1], "hi": levels[1:], "c": colors})
    layers = [alt.Chart(cells).mark_rect().encode(y=Yb, y2="hi:Q", x=alt.value(L), x2=alt.value(R), color=alt.Color("c:N", scale=None))]
    tdf = pd.DataFrame({"lo": ticks, "t": [("%.1f" % v).replace("-", "\u2212") for v in ticks]})
    layers.append(alt.Chart(tdf).mark_rule(color="black", opacity=0.12, strokeWidth=1).encode(y=Yb, x=alt.value(L), x2=alt.value(R)))
    layers.append(alt.Chart(tdf).mark_rule(color="black", strokeWidth=2).encode(y=Yb, x=alt.value(R), x2=alt.value(R + 9)))
    layers.append(alt.Chart(tdf).mark_text(font=SERIF, fontSize=21, align="left", baseline="middle", dy=1, color="black").encode(
        y=Yb, x=alt.value(lab_x - OFF), text="t:N"))
    layers.append(alt.Chart(D).mark_rect(fillOpacity=0, stroke="black", strokeWidth=2.5).encode(
        x=alt.value(L), x2=alt.value(R), y=alt.value(T), y2=alt.value(B)))
    for p in labels:
        layers.append(text_piece(p))
    return alt.layer(*layers)


P1 = dict(L=105.5, R=535, T=9.5, B=464, dom=(9.949, 11.901, -0.877, 1.512), top_dy=15, base=P1_BASE, mask=P1_MASK, contours=P1_CONTOURS,
          exits=P1_EXITS, colors=P1_COLORS, points=P1_POINTS, arrows=P1_ARROWS, kernel=(11.75, -.693, .109, .095, .02, .018),
          texts=title_d(128, 145.5, 155, 220, 283, 41, "star-forming centrals only") + rlab(440, 460, 66, 86, "[0.40,0.53]", "[-0.01,0.16]")
          + [("Kernel", 499, 393, 13, SANS, "normal", "center")] + axis_titles(177, 520, 43, 392, 235))
P2 = dict(L=752.3, R=1181, T=9.5, B=463, dom=(9.953, 11.901, -0.879, 1.508), top_dy=15, base=P2_BASE, mask=P2_MASK, contours=P2_CONTOURS,
          exits=P2_EXITS, colors=P2_COLORS, points=P2_POINTS, arrows=P2_ARROWS, kernel=(11.745, -.688, .174, .155, .032, .028),
          texts=title_h(766.7, 783, 797, 811.7, 874, 38, "star-forming centrals only") + rlab(1086.7, 1106, 66.5, 85.5, "[-0.35,-0.21]", "[-0.13,0.02]")
          + [("Kernel", 1145, 391, 13, SANS, "normal", "center")] + axis_titles(823, 518, 690, 390, 234))
P3 = dict(L=99.0, R=532.3, T=550.0, B=1013.0, dom=(9.954, 11.9, -0.876, 1.528), top_dy=8, base=P3_BASE, mask=P3_MASK, contours=P3_CONTOURS,
          exits=P3_EXITS, colors=P3_COLORS, points=P3_POINTS, arrows=P3_ARROWS, kernel=(11.75, -.69, .108, .092, .02, .018),
          texts=title_d(121.7, 139, 148.5, 215, 277.7, 585, "star-forming satellites only") + rlab(437, 457, 612.7, 631.7, "[0.19,0.41]", "[-0.11,0.13]")
          + [("Kernel", 496, 941, 13, SANS, "normal", "center")] + axis_titles(170, 1069, 36, 940, 784))
P4 = dict(L=751.0, R=1180.0, T=557.7, B=1015.7, dom=(9.951, 11.901, -0.881, 1.529), top_dy=8, base=P4_BASE, mask=P4_MASK, contours=P4_CONTOURS,
          exits=P4_EXITS, colors=P4_COLORS, points=P4_POINTS, arrows=P4_ARROWS, kernel=(11.75, -.688, .14, .193, .027, .035),
          texts=title_h(765, 780, 794, 806, 862.7, 590, "star-forming satellites only", 20) + rlab(1091.7, 1112, 619, 638, "[-0.34,-0.22]", "[-0.13,0.00]")
          + [("Kernel", 1143, 930, 13, SANS, "normal", "center")] + axis_titles(822, 1070, 689, 943, 787))

CB1 = colorbar(D4_LEVELS, D4_COLORS, D4_TICKS, 561, 580.7, 41, 430.7, 596.7,
               [("Older", 578, 27, 17, SANS, "normal", "center"), ("Younger", 587, 459, 17, SANS, "normal", "center"),
                ("D", 547, 494, 23), ("n", 564, 499, 15, SERIF, "italic"), ("4000", 573, 494, 23)])
CB2 = colorbar(HD_LEVELS, HD_COLORS, HD_TICKS, 1207.3, 1226.7, 39.3, 429, 1241.7,
               [("SF Burst", 1238, 26, 17, SANS, "normal", "center"), ("Quiescent", 1240, 457, 17, SANS, "normal", "center"),
                ("H", 1201, 497, 26), ("\u03b4", 1221, 497, 27, SERIF, "italic"), ("(\u00c5)", 1236, 497, 26)])
CB3 = colorbar(D4_LEVELS, D4_COLORS, D4_TICKS, 559, 579, 585, 979, 595,
               [("Older", 577, 570, 17, SANS, "normal", "center"), ("Younger", 586, 1007, 17, SANS, "normal", "center"),
                ("D", 545, 1042, 23), ("n", 562, 1047, 15, SERIF, "italic"), ("4000", 571, 1042, 23)])
CB4 = colorbar(HD_LEVELS, HD_COLORS, HD_TICKS, 1206, 1225, 592, 981.5, 1240,
               [("SF Burst", 1237, 578, 17, SANS, "normal", "center"), ("Quiescent", 1238, 1009, 17, SANS, "normal", "center"),
                ("H", 1200, 1049, 26), ("\u03b4", 1220, 1049, 27, SERIF, "italic"), ("(\u00c5)", 1235, 1049, 26)])

chart = alt.layer(panel(P1), CB1, panel(P2), CB2, panel(P3), CB3, panel(P4), CB4).resolve_scale(x="independent", y="independent").properties(
    width=1289, height=1073, padding=0, autosize=alt.AutoSizeParams(type="none")).configure_view(stroke=None)
chart.save("out.html", embed_options={"renderer": "svg", "actions": False})
